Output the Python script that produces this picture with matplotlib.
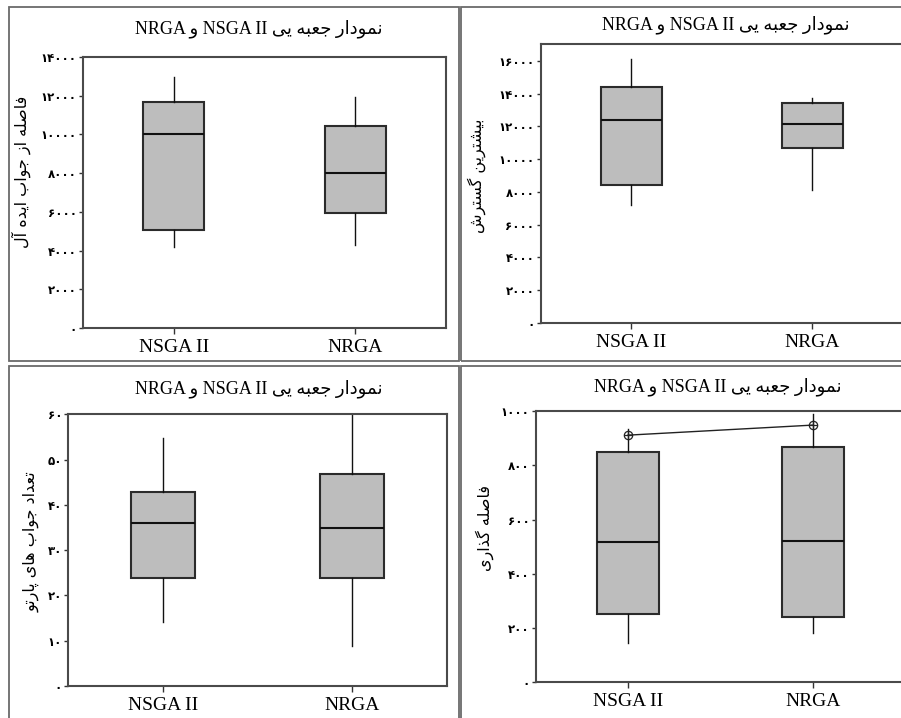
import matplotlib
matplotlib.use("Agg")
import matplotlib.pyplot as plt
from matplotlib.patches import Rectangle

W, H = 901, 718

# ---------------- data ----------------
methods = ["NSGA II", "NRGA"]
title_text = "نمودار جعبه یی NSGA II و NRGA"

# panel 1: distance from ideal solution
p1_ylabel = "فاصله از جواب ایده آل"
p1_whislo = [4180, 4290]
p1_q1 = [5060, 5930]
p1_med = [10000, 8000]
p1_q3 = [11690, 10430]
p1_whishi = [12970, 11920]
p1_ticks = [0, 2000, 4000, 6000, 8000, 10000, 12000, 14000]

# panel 2: maximum spread
p2_ylabel = "بیشترین گسترش"
p2_whislo = [7180, 8140]
p2_q1 = [8410, 10650]
p2_med = [12420, 12120]
p2_q3 = [14380, 13460]
p2_whishi = [16140, 13710]
p2_ticks = [0, 2000, 4000, 6000, 8000, 10000, 12000, 14000, 16000]

# panel 3: number of pareto solutions
p3_ylabel = "تعداد جواب های پارتو"
p3_whislo = [14.1, 8.9]
p3_q1 = [23.9, 23.9]
p3_med = [35.9, 34.9]
p3_q3 = [42.8, 46.9]
p3_whishi = [54.7, 60]
p3_ticks = [0, 10, 20, 30, 40, 50, 60]

# panel 4: spacing
p4_ylabel = "فاصله گذاری"
p4_whislo = [144, 181]
p4_q1 = [253, 240]
p4_med = [518, 522]
p4_q3 = [850, 868]
p4_whishi = [932, 989]
p4_means = [911, 948]
p4_ticks = [0, 200, 400, 600, 800, 1000]

# ---------------- minimal Persian shaping / bidi ----------------
FORMS = {
    'ا': ('\uFE8D', '\uFE8E', None, None),
    'آ': ('\uFE81', '\uFE82', None, None),
    'ب': ('\uFE8F', '\uFE90', '\uFE91', '\uFE92'),
    'پ': ('\uFB56', '\uFB57', '\uFB58', '\uFB59'),
    'ت': ('\uFE95', '\uFE96', '\uFE97', '\uFE98'),
    'ج': ('\uFE9D', '\uFE9E', '\uFE9F', '\uFEA0'),
    'د': ('\uFEA9', '\uFEAA', None, None),
    'ذ': ('\uFEAB', '\uFEAC', None, None),
    'ر': ('\uFEAD', '\uFEAE', None, None),
    'ز': ('\uFEAF', '\uFEB0', None, None),
    'س': ('\uFEB1', '\uFEB2', '\uFEB3', '\uFEB4'),
    'ش': ('\uFEB5', '\uFEB6', '\uFEB7', '\uFEB8'),
    'ص': ('\uFEB9', '\uFEBA', '\uFEBB', '\uFEBC'),
    'ع': ('\uFEC9', '\uFECA', '\uFECB', '\uFECC'),
    'ف': ('\uFED1', '\uFED2', '\uFED3', '\uFED4'),
    'گ': ('\uFB92', '\uFB93', '\uFB94', '\uFB95'),
    'ل': ('\uFEDD', '\uFEDE', '\uFEDF', '\uFEE0'),
    'م': ('\uFEE1', '\uFEE2', '\uFEE3', '\uFEE4'),
    'ن': ('\uFEE5', '\uFEE6', '\uFEE7', '\uFEE8'),
    'و': ('\uFEED', '\uFEEE', None, None),
    'ه': ('\uFEE9', '\uFEEA', '\uFEEB', '\uFEEC'),
    'ی': ('\uFBFC', '\uFBFD', '\uFBFE', '\uFBFF'),
}


def shape(word):
    out = []
    n = len(word)
    for i, c in enumerate(word):
        if c not in FORMS:
            out.append(c)
            continue
        iso, fin, ini, med = FORMS[c]
        prev = word[i - 1] if i > 0 else None
        nxt = word[i + 1] if i < n - 1 else None
        jp = prev in FORMS and FORMS[prev][2] is not None
        jn = ini is not None and nxt in FORMS
        if jp and jn:
            out.append(med)
        elif jp:
            out.append(fin)
        elif jn:
            out.append(ini)
        else:
            out.append(iso)
    return ''.join(out)


def visual(text):
    words = text.split(' ')
    runs = []
    for w in words:
        ar = any(ch in FORMS for ch in w)
        if runs and runs[-1][0] == ar:
            runs[-1][1].append(w)
        else:
            runs.append((ar, [w]))
    parts = []
    for ar, ws in reversed(runs):
        if ar:
            parts.append(' '.join(shape(w)[::-1] for w in reversed(ws)))
        else:
            parts.append(' '.join(ws))
    return ' '.join(parts)


def fa_digits(v):
    return str(int(v)).translate(str.maketrans('0123456789', '۰۱۲۳۴۵۶۷۸۹'))


# ---------------- drawing ----------------
LAT = ['Liberation Serif', 'DejaVu Sans']
ARF = ['DejaVu Sans']

fig = plt.figure(figsize=(W / 100, H / 100), dpi=100)


def fbox(l, t, r, b):
    return [l / W, (H - b) / H, (r - l) / W, (b - t) / H]


# panel frames (pixel coords l, t, r, b)
frames = [(9, 7, 458.5, 361), (461, 7, 905, 361), (9, 366, 458.5, 722), (461, 366, 905, 722)]
for (l, t, r, b) in frames:
    fig.patches.append(Rectangle((l / W, (H - b) / H), (r - l) / W, (b - t) / H,
                                 transform=fig.transFigure, fill=False,
                                 edgecolor='#6a6a6a', lw=1.3, clip_on=False))

panels = [
    dict(ax=(83, 57, 446, 328), ylim=14000, ticks=p1_ticks, ylabel=p1_ylabel,
         stats=(p1_whislo, p1_q1, p1_med, p1_q3, p1_whishi), title=(259, 29), yl=(21, 172)),
    dict(ax=(540.7, 44.3, 903, 322.7), ylim=17020, ticks=p2_ticks, ylabel=p2_ylabel,
         stats=(p2_whislo, p2_q1, p2_med, p2_q3, p2_whishi), title=(726, 25), yl=(477, 176)),
    dict(ax=(68.3, 414.3, 446.7, 686), ylim=60, ticks=p3_ticks, ylabel=p3_ylabel,
         stats=(p3_whislo, p3_q1, p3_med, p3_q3, p3_whishi), title=(259, 389), yl=(31, 542)),
    dict(ax=(535.7, 411, 905, 682.3), ylim=1000, ticks=p4_ticks, ylabel=p4_ylabel,
         stats=(p4_whislo, p4_q1, p4_med, p4_q3, p4_whishi), title=(718, 387), yl=(485, 528)),
]

for k, p in enumerate(panels):
    ax = fig.add_axes(fbox(*p['ax']))
    wl, q1, md, q3, wh = p['stats']
    bstats = []
    for i, m in enumerate(methods):
        bstats.append(dict(label=m, whislo=wl[i], q1=q1[i], med=md[i], q3=q3[i],
                           whishi=wh[i], fliers=[]))
    ax.bxp(bstats, positions=[1, 2], widths=0.336, patch_artist=True,
           showcaps=False, showfliers=False,
           boxprops=dict(facecolor='#bdbdbd', edgecolor='#2b2b2b', linewidth=1.5),
           medianprops=dict(color='#111111', linewidth=1.5),
           whiskerprops=dict(color='#111111', linewidth=1.0))
    if k == 3:
        ax.plot([1, 2], p4_means, color='#222222', lw=1.0, marker='o', ms=6,
                mfc='none', mec='#222222', mew=0.9)
        ax.plot([1, 2], p4_means, ls='none', marker='+', ms=6, mec='#222222', mew=0.9)
    ax.set_xlim(0.5, 2.5)
    ax.set_ylim(0, p['ylim'])
    ax.set_yticks(p['ticks'])
    ax.set_yticklabels([fa_digits(v) for v in p['ticks']], family=ARF,
                       fontsize=8.5, fontweight='bold')
    ax.set_xticks([1, 2])
    ax.set_xticklabels(methods, family=LAT, fontsize=14)
    ax.tick_params(axis='y', length=3, width=1, pad=1.5, color='#333333')
    ax.tick_params(axis='x', length=4, width=1, pad=4, color='#333333')
    for s in ax.spines.values():
        s.set_color('#4a4a4a')
        s.set_linewidth(1.5)
    tx, ty = p['title']
    fig.text(tx / W, (H - ty) / H, visual(title_text), family=LAT, fontsize=13,
             ha='center', va='center')
    lx, ly = p['yl']
    fig.text(lx / W, (H - ly) / H, visual(p['ylabel']), family=ARF, fontsize=11.5,
             rotation=90, ha='center', va='center')

fig.savefig('out.png', dpi=100)
